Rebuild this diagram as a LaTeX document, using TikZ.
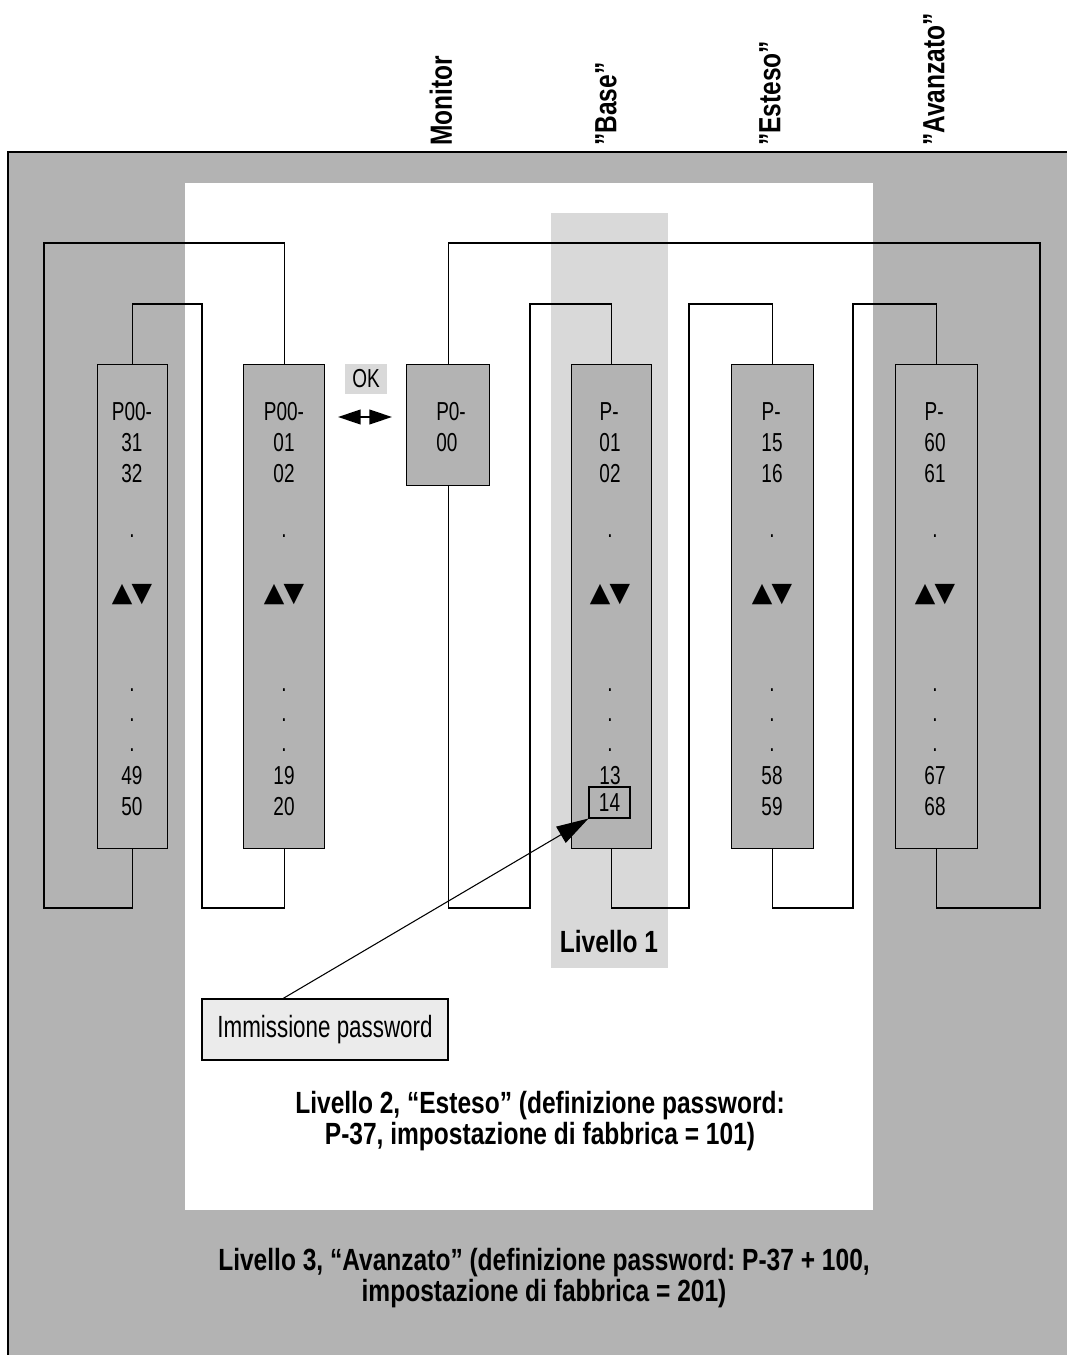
\documentclass[tikz,border=0pt]{standalone}
\usepackage{fontspec}
\newfontfamily\cond[FakeStretch=0.73]{Liberation Sans}
\newfontfamily\condb[FakeStretch=0.8]{Liberation Sans}
\newfontfamily\dejavu{DejaVu Sans}
\usetikzlibrary{arrows.meta,calc}
\definecolor{dgray}{RGB}{179,179,179}
\definecolor{lgray}{RGB}{217,217,217}
\definecolor{pwgray}{RGB}{235,235,235}
\frenchspacing
\newcommand{\pcol}[7]{%
  \node[pt,#3] (#1p) at (#2,412) {#4};
  \node[pt] (#1a) at (#2,443) {#5};
  \node[pt] (#1b) at (#2,474) {#6};
  \node[pt] (#1d) at (#2,536) {.};
  \node[arr] (#1u) at (#2,595) {▲\kern-0.5pt▼};
  \node[pt] (#1e) at (#2,690) {.};
  \node[pt] (#1f) at (#2,720) {.};
  \node[pt] (#1g) at (#2,750) {.};
  \node[pt] (#1c) at (#2,776) {#7};
}
\begin{document}
\begin{tikzpicture}[x=0.75pt,y=-0.75pt,
  pbox/.style={draw, fill=dgray, line width=1pt, inner sep=0, anchor=north west},
  tallbox/.style={pbox, minimum height=363pt},
  conn/.style={line width=1pt},
  pt/.style={font=\cond\fontsize{19.5}{19.5}\selectfont, inner sep=0},
  arr/.style={font=\dejavu\fontsize{20}{20}\selectfont, inner sep=0},
  lbl/.style={font=\condb\bfseries\fontsize{23}{23.25}\selectfont\frenchspacing, inner sep=0, align=center},
  toplbl/.style={lbl, rotate=90, anchor=west},
]
\useasboundingbox (0,0) rectangle (1067,1355);
% background areas
\fill[dgray] (8,152) rectangle (1067,1355);
\draw[line width=1.2pt] (8,1355) -- (8,152) -- (1067,152);
\fill[white] (185,183) rectangle (873,1210);
\fill[lgray] (551,213) rectangle (668,968);

% top labels
\node[toplbl] (mon) at (441,146) {Monitor};
\node[toplbl] (bas) at (606,146) {”Base”};
\node[toplbl] (est) at (770,146) {”Esteso”};
\node[toplbl] (ava) at (934,146) {”Avanzato”};

% parameter boxes
\node[tallbox, minimum width=52.5pt] (b1) at (97,364) {};
\node[tallbox, minimum width=60.75pt] (b2) at (243,364) {};
\node[pbox, minimum width=62.25pt, minimum height=90.75pt] (b3) at (406,364) {};
\node[tallbox, minimum width=60pt] (b4) at (571,364) {};
\node[tallbox, minimum width=61.5pt] (b5) at (731,364) {};
\node[tallbox, minimum width=61.5pt] (b6) at (895,364) {};

% connectors
\draw[conn] (b2.north) |- (44,243) -- (44,908) -| (b1.south);
\draw[conn] (b1.north) |- (202,304) -- (202,908) -| (b2.south);
\draw[conn] (b3.north) |- (1040,243) -- (1040,908) -| (b6.south);
\draw[conn] (b3.south) |- (530,908) -- (530,304) -| (b4.north);
\draw[conn] (b4.south) |- (689,908) -- (689,304) -| (b5.north);
\draw[conn] (b5.south) |- (853,908) -- (853,304) -| (b6.north);

% box contents
\pcol{c1}{132}{}{P00-}{31}{32}{49}
\node[pt] (c1z) at (132,807) {50};
\pcol{c2}{284}{}{P00-}{01}{02}{19}
\node[pt] (c2z) at (284,807) {20};
\node[pt,anchor=west] (c3p) at (436,412) {P0-};
\node[pt,anchor=west] (c3a) at (436,443) {00};
\pcol{c4}{610}{anchor=west,xshift=-8pt}{P-}{01}{02}{13}
\node[pt,draw,line width=0.8pt,minimum width=30.75pt,minimum height=23.25pt] (b14) at (609.5,802.5) {14};
\pcol{c5}{772}{anchor=west,xshift=-8pt}{P-}{15}{16}{58}
\node[pt] (c5z) at (772,807) {59};
\pcol{c6}{935}{anchor=west,xshift=-8pt}{P-}{60}{61}{67}
\node[pt] (c6z) at (935,807) {68};

% OK
\node[pt, fill=lgray, minimum width=31.5pt, minimum height=22.5pt] (ok) at (366,379) {OK};
\coordinate (okl) at (338,417);
\coordinate (okr) at (392,417);
\draw[line width=1.5pt, {Triangle[length=17pt,width=11pt]}-{Triangle[length=17pt,width=11pt]}] (okl) -- (okr);

% password
\node[draw, fill=pwgray, line width=1pt, minimum width=184.5pt, minimum height=45.75pt,
      font=\cond\fontsize{23}{23}\selectfont, inner sep=0] (pw) at (325,1029.5) {Immissione password};
\coordinate (pws) at ($(pw.north west)+(82,0)$);
\draw[line width=0.8pt, -{Triangle[length=24pt,width=14pt]}] (pws) -- (b14.south west);

% level labels
\node[lbl] (l1) at (609,942) {Livello 1};
\node[lbl] (l2) at (540,1121) {Livello 2, “Esteso” (definizione password:\\P-37, impostazione di fabbrica = 101)};
\node[lbl] (l3) at (544,1278) {Livello 3, “Avanzato” (definizione password: P-37 + 100,\\impostazione di fabbrica = 201)};
\end{tikzpicture}
\end{document}
